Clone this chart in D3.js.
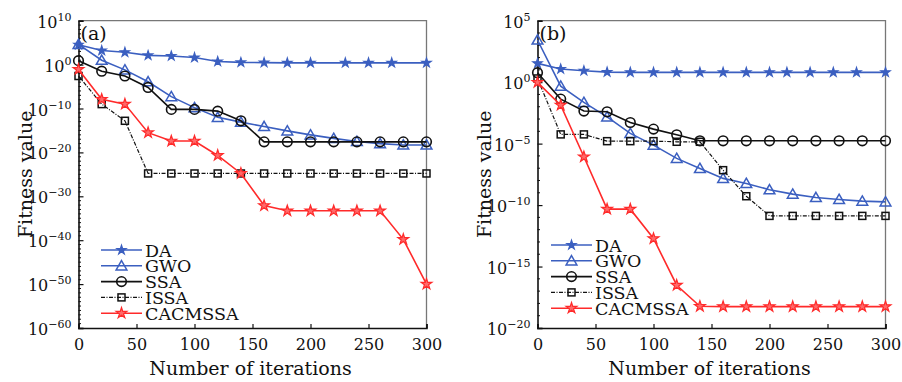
<!DOCTYPE html>
<html><head><meta charset="utf-8">
<script src="https://cdn.jsdelivr.net/npm/d3@7"></script>
<style>
body{margin:0;background:#fff;}
svg{display:block;}
text{font-family:"DejaVu Serif","Liberation Serif",serif;fill:#111;}
</style></head>
<body><svg id="chart" width="902" height="382"></svg>
<script>
// ---- Data (log10 of fitness value) ----
const seriesNames = ["DA","GWO","SSA","ISSA","CACMSSA"];
const iterStd = [0,20,40,60,80,100,120,140,160,180,200,220,240,260,280,300];

// Panel (a)
const aDA_x = [0,20,40,60,80,100,120,140,160,180,200,230,250,270,300];
const aDA   = [4.5,3.2,2.8,2.1,1.95,1.6,0.7,0.5,0.45,0.4,0.4,0.4,0.4,0.4,0.4];
const aGWO  = [4.6,1.0,-1.2,-3.9,-7.3,-9.8,-12.0,-13.1,-14.1,-15.1,-16.0,-16.8,-17.5,-18.0,-18.3,-18.3];
const aSSA  = [0.9,-1.5,-2.6,-5.2,-10.2,-10.2,-10.6,-12.8,-17.6,-17.6,-17.6,-17.6,-17.6,-17.6,-17.6,-17.6];
const aISSA = [-2.6,-9.0,-12.8,-24.8,-24.8,-24.8,-24.8,-24.8,-24.8,-24.8,-24.8,-24.8,-24.8,-24.8,-24.8,-24.8];
const aCAC  = [-1.1,-7.9,-9.0,-15.5,-17.4,-17.4,-20.7,-24.8,-32.1,-33.3,-33.3,-33.3,-33.3,-33.3,-39.8,-50.0];

// Panel (b)
const bDA_x = [0,20,40,60,80,100,120,140,160,180,200,215,235,255,275,300];
const bDA   = [1.53,1.07,0.93,0.82,0.8,0.8,0.8,0.8,0.8,0.8,0.8,0.8,0.8,0.8,0.8,0.8];
const bGWO  = [3.43,-0.32,-1.65,-2.82,-4.17,-5.12,-6.2,-7.02,-7.83,-8.24,-8.75,-9.11,-9.38,-9.54,-9.68,-9.74];
const bSSA  = [0.77,-1.38,-2.35,-2.41,-3.28,-3.82,-4.28,-4.77,-4.77,-4.77,-4.77,-4.77,-4.77,-4.77,-4.77,-4.77];
const bISSA = [0.3,-4.25,-4.25,-4.8,-4.8,-4.8,-4.85,-4.85,-7.16,-9.28,-10.88,-10.88,-10.88,-10.88,-10.88,-10.88];
const bCAC  = [-0.02,-1.87,-6.07,-10.33,-10.33,-12.72,-16.52,-18.23,-18.26,-18.26,-18.26,-18.26,-18.26,-18.26,-18.26,-18.26];

const xTicks = [0,50,100,150,200,250,300];
const aYTicks = [10,0,-10,-20,-30,-40,-50,-60];
const bYTicks = [5,0,-5,-10,-15,-20];

// ---- Styling ----
const BLUE = "#3b5fc0", RED = "#ff2a2a", BLACK = "#111";
const svg = d3.select("#chart");

const styles = {
  DA:      {color: BLUE,  dash: null,        sym: "dot"},
  GWO:     {color: BLUE,  dash: null,        sym: "tri"},
  SSA:     {color: BLACK, dash: null,        sym: "circ"},
  ISSA:    {color: BLACK, dash: "4,1.5,1,1.5", sym: "sq"},
  CACMSSA: {color: RED,   dash: null,        sym: "star"}
};

function drawMarker(g, sym, color, x, y) {
  if (sym === "dot") {
    g.append("path").attr("d", d3.symbol(d3.symbolStar, 26)()).attr("transform", `translate(${x},${y})`)
      .attr("fill", color).attr("stroke", color).attr("stroke-width", 1.2);
  } else if (sym === "tri") {
    g.append("path").attr("d", d3.symbol(d3.symbolTriangle, 50)()).attr("transform", `translate(${x},${y+1})`)
      .attr("fill", "none").attr("stroke", color).attr("stroke-width", 1.5);
  } else if (sym === "circ") {
    g.append("circle").attr("cx", x).attr("cy", y).attr("r", 4.8)
      .attr("fill", "none").attr("stroke", color).attr("stroke-width", 1.6);
  } else if (sym === "sq") {
    g.append("rect").attr("x", x-3.5).attr("y", y-3.5).attr("width", 7).attr("height", 7)
      .attr("fill", "none").attr("stroke", color).attr("stroke-width", 1.5);
  } else if (sym === "star") {
    g.append("path").attr("d", d3.symbol(d3.symbolStar, 36)()).attr("transform", `translate(${x},${y})`)
      .attr("fill", "#ff6a6a").attr("stroke", color).attr("stroke-width", 1.2);
  }
}

function supLabel(sel, exp) {
  sel.append("tspan").text("10");
  sel.append("tspan").attr("dy", -7).attr("font-size", 11)
    .text(exp < 0 ? "\u2212" + (-exp) : String(exp));
}

function panel(cfg) {
  const {left, right, top, bottom, yMin, yMax, yTicks, data, tag, legX, legY} = cfg;
  const x = d3.scaleLinear().domain([0,300]).range([left, right]);
  const y = d3.scaleLog().domain([10**yMin, 10**yMax]).range([bottom, top]);
  const g = svg.append("g");

  // frame top & right
  g.append("path").attr("d", `M${left},${top}H${right}V${bottom}`).attr("fill","none")
    .attr("stroke","#777").attr("stroke-width",1.3);

  // x axis
  const xa = d3.axisBottom(x).tickValues(xTicks).tickSize(-4).tickFormat(d3.format("d")).tickPadding(11);
  const xg = g.append("g").attr("transform", `translate(0,${bottom})`).call(xa);
  xg.select(".domain").attr("stroke", BLACK).attr("stroke-width", 1.6);
  xg.selectAll(".tick line").attr("stroke", BLACK).attr("stroke-width", 1.2);
  xg.selectAll(".tick text").attr("font-size", 16).attr("fill", BLACK)
    .attr("font-family", '"DejaVu Serif",serif').attr("dy", "0.71em");

  // y minor ticks (every decade)
  const minor = d3.range(yMin, yMax + 1).filter(e => !yTicks.includes(e));
  g.selectAll(null).data(minor).join("line")
    .attr("x1", left).attr("x2", left + 2.5)
    .attr("y1", d => y(10**d)).attr("y2", d => y(10**d))
    .attr("stroke", BLACK).attr("stroke-width", 1);
  // y axis with major ticks
  const ya = d3.axisLeft(y).tickValues(yTicks.map(e => 10**e)).tickSize(-5).tickFormat("");
  const yg = g.append("g").attr("transform", `translate(${left},0)`).call(ya);
  yg.select(".domain").attr("stroke", BLACK).attr("stroke-width", 1.6);
  yg.selectAll(".tick line").attr("stroke", BLACK).attr("stroke-width", 1.2);
  yTicks.forEach(e => {
    const t = g.append("text").attr("x", left - 7).attr("y", y(10**e) + 7)
      .attr("text-anchor", "end").attr("font-size", 16);
    supLabel(t, e);
  });

  // series
  const line = d3.line().x(d => x(d[0])).y(d => y(10**d[1]));
  data.forEach(s => {
    const st = styles[s.name];
    const pts = s.x.map((xx, i) => [xx, s.v[i]]);
    g.append("path").datum(pts).attr("d", line).attr("fill", "none")
      .attr("stroke", st.color).attr("stroke-width", s.name === "ISSA" ? 1.2 : 1.6)
      .attr("stroke-dasharray", st.dash);
    pts.forEach(p => drawMarker(g, st.sym, st.color, x(p[0]), y(10**p[1])));
  });

  // tag
  g.append("text").attr("x", left + 2).attr("y", top + 19).attr("font-size", 19).text(tag);

  // legend
  seriesNames.forEach((n, i) => {
    const st = styles[n];
    const ly = legY + i * 15.8;
    g.append("line").attr("x1", legX).attr("x2", legX + 41).attr("y1", ly).attr("y2", ly)
      .attr("stroke", st.color).attr("stroke-width", n === "ISSA" ? 1.2 : 1.6)
      .attr("stroke-dasharray", st.dash);
    drawMarker(g, st.sym, st.color, legX + 20.5, ly);
    g.append("text").attr("x", legX + 44).attr("y", ly + 6.5).attr("font-size", 17.5).text(n);
  });

  // axis titles
  g.append("text").attr("x", (left + right) / 2 - 2).attr("y", 375).attr("text-anchor", "middle")
    .attr("font-size", 19).text("Number of iterations");
  g.append("text").attr("transform", `translate(${left - 47},${(top + bottom) / 2}) rotate(-90)`)
    .attr("text-anchor", "middle").attr("font-size", 19).text("Fitness value");
}

panel({
  left: 78.5, right: 426.5, top: 20.7, bottom: 328, yMin: -60, yMax: 10, yTicks: aYTicks, tag: "(a)",
  legX: 101, legY: 250,
  data: [
    {name: "DA", x: aDA_x, v: aDA},
    {name: "GWO", x: iterStd, v: aGWO},
    {name: "SSA", x: iterStd, v: aSSA},
    {name: "ISSA", x: iterStd, v: aISSA},
    {name: "CACMSSA", x: iterStd, v: aCAC}
  ]
});
panel({
  left: 537.5, right: 885.5, top: 20.7, bottom: 328, yMin: -20, yMax: 5, yTicks: bYTicks, tag: "(b)",
  legX: 551, legY: 245,
  data: [
    {name: "DA", x: bDA_x, v: bDA},
    {name: "GWO", x: iterStd, v: bGWO},
    {name: "SSA", x: iterStd, v: bSSA},
    {name: "ISSA", x: iterStd, v: bISSA},
    {name: "CACMSSA", x: iterStd, v: bCAC}
  ]
});
</script></body></html>
